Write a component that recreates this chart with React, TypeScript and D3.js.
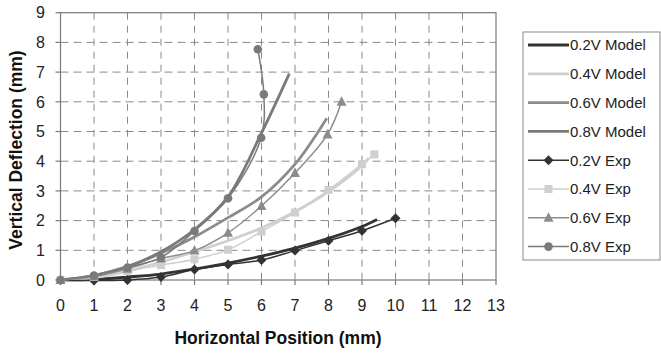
import React from "react";
import * as d3 from "d3";

type P = [number, number];

const xTicks = [0, 1, 2, 3, 4, 5, 6, 7, 8, 9, 10, 11, 12, 13];
const yTicks = [0, 1, 2, 3, 4, 5, 6, 7, 8, 9];

const model02: P[] = [[0, 0], [1, 0.02], [2, 0.1], [3, 0.2], [4, 0.37], [5, 0.57], [6, 0.8], [7, 1.07], [8, 1.4], [9, 1.8], [9.45, 2.04]];
const model04: P[] = [[0, 0], [1, 0.08], [2, 0.3], [3, 0.6], [4, 0.95], [5, 1.32], [6, 1.75], [7, 2.3], [8, 2.98], [9, 3.85], [9.2, 4.1]];
const model06: P[] = [[0, 0], [1, 0.15], [2, 0.45], [3, 0.9], [4, 1.45], [5, 2.1], [6, 2.8], [7, 3.9], [7.95, 5.45]];
const model08: P[] = [[0, 0], [1, 0.15], [2, 0.45], [3, 0.95], [4, 1.7], [5, 2.8], [6, 4.95], [6.83, 6.95]];

const exp02: P[] = [[0, 0], [1, -0.02], [2, 0], [3, 0.1], [4, 0.35], [5, 0.52], [6, 0.67], [7, 0.99], [8, 1.32], [9, 1.66], [10, 2.08]];
const exp04: P[] = [[0, 0], [1, 0.1], [2, 0.3], [3, 0.5], [4, 0.7], [5, 1.02], [6, 1.63], [7, 2.27], [8, 3.03], [9, 3.9], [9.37, 4.23]];
const exp06: P[] = [[0, 0], [1, 0.12], [2, 0.38], [3, 0.72], [4, 0.99], [5, 1.59], [6, 2.49], [7, 3.6], [7.97, 4.9], [8.39, 6.0]];
const exp08: P[] = [[0, 0], [1, 0.15], [2, 0.42], [3, 0.76], [4, 1.65], [5, 2.75], [5.99, 4.79], [6.07, 6.25], [5.89, 7.77]];

const C02 = "#333333";
const C04 = "#cfcfcf";
const C06 = "#8c8c8c";
const C08 = "#7a7a7a";

const modelSeries = [
  { name: "0.2V Model", data: model02, color: C02 },
  { name: "0.4V Model", data: model04, color: C04 },
  { name: "0.6V Model", data: model06, color: C06 },
  { name: "0.8V Model", data: model08, color: C08 },
];
const expSeries = [
  { name: "0.2V Exp", data: exp02, color: C02, marker: "diamond" },
  { name: "0.4V Exp", data: exp04, color: C04, marker: "square" },
  { name: "0.6V Exp", data: exp06, color: C06, marker: "triangle" },
  { name: "0.8V Exp", data: exp08, color: C08, marker: "circle" },
];

const FONT = "'Liberation Sans', Arial, sans-serif";

function Marker({ type, x, y, color }: { type: string; x: number; y: number; color: string }) {
  if (type === "diamond") {
    const s = 5;
    return <path d={`M${x},${y - s}L${x + s},${y}L${x},${y + s}L${x - s},${y}Z`} fill={color} />;
  }
  if (type === "square") {
    return <rect x={x - 4} y={y - 4} width={8} height={8} fill={color} />;
  }
  if (type === "triangle") {
    return <path d={`M${x},${y - 5.5}L${x + 5},${y + 4}L${x - 5},${y + 4}Z`} fill={color} />;
  }
  return <circle cx={x} cy={y} r={4.3} fill={color} />;
}

export default function App() {
  const W = 661, H = 354;
  const x = d3.scaleLinear().domain([0, 13]).range([60.5, 496]);
  const y = d3.scaleLinear().domain([0, 9]).range([280, 12.7]);
  const line = d3
    .line<P>()
    .x((d) => x(d[0]))
    .y((d) => y(d[1]))
    .curve(d3.curveCatmullRom.alpha(0.5));

  const legendX = 523, legendY = 32, legendW = 137, legendH = 228;
  const rowY = (i: number) => 45 + i * 28.8;

  return (
    <svg width={W} height={H} style={{ position: "absolute", left: 0, top: 0, background: "#fff" }} fontFamily={FONT}>
      <rect width={W} height={H} fill="#fff" />
      {/* grid */}
      {xTicks.filter((t) => t > 0 && t < 13).map((t) => (
        <line key={"gx" + t} x1={x(t)} x2={x(t)} y1={y(9)} y2={y(0)} stroke="#8a8a8a" strokeWidth={1} strokeDasharray="7,6" />
      ))}
      {yTicks.filter((t) => t > 0 && t < 9).map((t) => (
        <line key={"gy" + t} x1={x(0)} x2={x(13)} y1={y(t)} y2={y(t)} stroke="#8a8a8a" strokeWidth={1} strokeDasharray="8,5" />
      ))}
      {/* frame */}
      <rect x={x(0)} y={y(9)} width={x(13) - x(0)} height={y(0) - y(9)} fill="none" stroke="#7a7a7a" strokeWidth={1.2} />
      {/* ticks */}
      {xTicks.map((t) => (
        <g key={"tx" + t}>
          <line x1={x(t)} x2={x(t)} y1={y(0)} y2={y(0) + 5} stroke="#7a7a7a" strokeWidth={1.2} />
          <text x={x(t)} y={305} dy="0.36em" textAnchor="middle" fontSize={16} fill="#222">{t}</text>
        </g>
      ))}
      {yTicks.map((t) => (
        <g key={"ty" + t}>
          <line x1={x(0) - 5} x2={x(0)} y1={y(t)} y2={y(t)} stroke="#7a7a7a" strokeWidth={1.2} />
          <text x={x(0) - 15.5} y={y(t)} dy="0.36em" textAnchor="end" fontSize={16} fill="#222">{t}</text>
        </g>
      ))}
      {/* axis titles */}
      <text x={278} y={344} textAnchor="middle" fontSize={17.5} fontWeight="bold" fill="#111">Horizontal Position (mm)</text>
      <text transform={`translate(22,${150}) rotate(-90)`} textAnchor="middle" fontSize={17.5} fontWeight="bold" fill="#111">Vertical Deflection (mm)</text>

      {/* model lines */}
      {modelSeries.map((s) => (
        <path key={s.name} d={line(s.data) || ""} fill="none" stroke={s.color} strokeWidth={2.8} />
      ))}
      {/* exp lines */}
      {expSeries.map((s) => (
        <g key={s.name}>
          <path d={line(s.data) || ""} fill="none" stroke={s.color} strokeWidth={1.5} />
          {s.data.map((d, i) => (
            <Marker key={i} type={s.marker} x={x(d[0])} y={y(d[1])} color={s.color} />
          ))}
        </g>
      ))}

      {/* legend */}
      <rect x={legendX} y={legendY} width={legendW} height={legendH} fill="#fff" stroke="#8a8a8a" strokeWidth={1} />
      {modelSeries.map((s, i) => (
        <g key={"lm" + s.name}>
          <line x1={528} x2={569} y1={rowY(i)} y2={rowY(i)} stroke={s.color} strokeWidth={2.8} />
          <text x={570} y={rowY(i)} dy="0.36em" fontSize={15} fill="#222">{s.name}</text>
        </g>
      ))}
      {expSeries.map((s, j) => {
        const i = j + 4;
        return (
          <g key={"le" + s.name}>
            <line x1={528} x2={569} y1={rowY(i)} y2={rowY(i)} stroke={s.color} strokeWidth={1.5} />
            <Marker type={s.marker} x={548.5} y={rowY(i)} color={s.color} />
            <text x={570} y={rowY(i)} dy="0.36em" fontSize={15} fill="#222">{s.name}</text>
          </g>
        );
      })}
    </svg>
  );
}
